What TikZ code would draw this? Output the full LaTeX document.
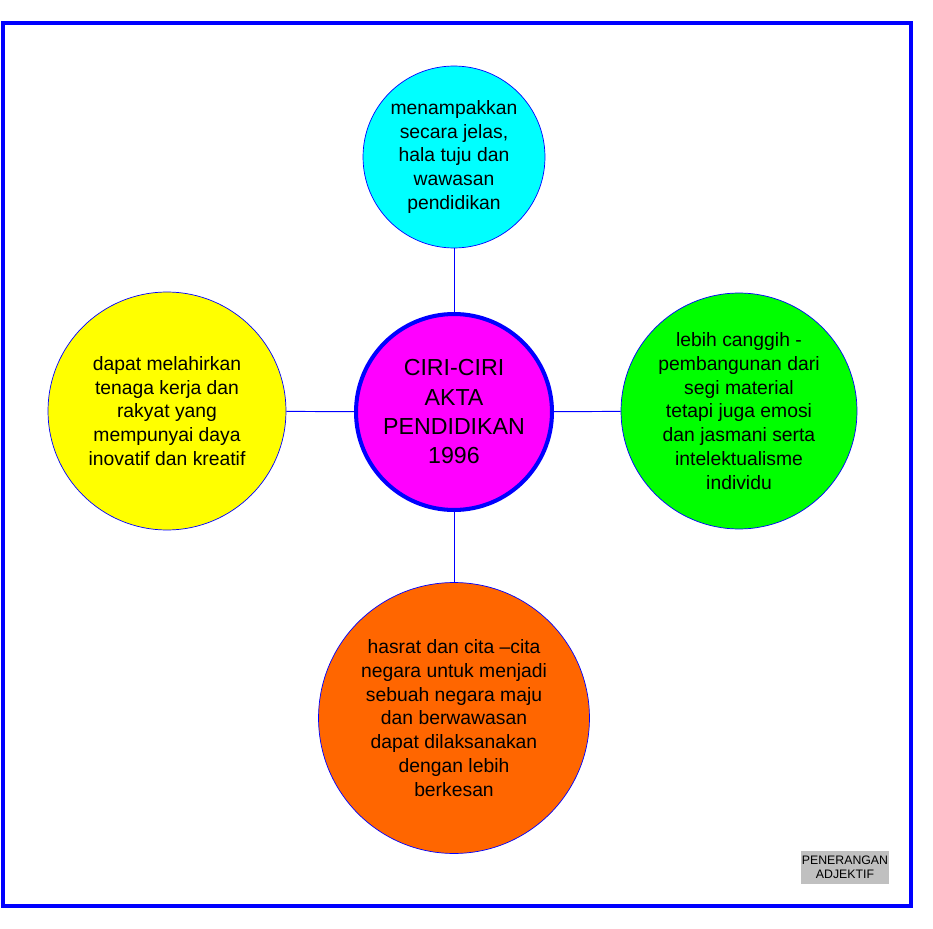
\documentclass[tikz,border=0pt]{standalone}
\usepackage{fontspec}
\setmainfont{Liberation Sans}
\definecolor{kuning}{RGB}{255,255,0}
\definecolor{biru}{RGB}{0,0,255}
\definecolor{sian}{RGB}{0,255,255}
\definecolor{hijau}{RGB}{0,255,0}
\definecolor{jingga}{RGB}{255,102,0}
\definecolor{ungu}{RGB}{255,0,255}
\definecolor{kelabu}{RGB}{192,192,192}
\begin{document}
\begin{tikzpicture}[x=0.02cm,y=-0.02cm,
  bubble/.style={circle,draw=biru,line width=0.4pt,align=center,inner sep=0pt,
    font=\fontsize{11}{13.6}\selectfont},
  link/.style={draw=biru,line width=0.55pt}]
\useasboundingbox (0,0) rectangle (933,929);
% frame
\draw[biru,line width=0.08cm] (3,23) rectangle (910.5,905.5);
% centre
\node[circle,draw=biru,line width=2.3pt,fill=ungu,align=center,inner sep=0pt,
  minimum size=3.92cm,font=\fontsize{13.2}{16.7}\selectfont] (ciri) at (454,412)
  {CIRI-CIRI\\AKTA\\PENDIDIKAN\\1996};
% outer circles
\node[bubble,fill=sian,minimum size=3.64cm] (tuju) at (454,157)
  {menampakkan\\secara jelas,\\hala tuju dan\\wawasan\\pendidikan};
\node[bubble,fill=kuning,minimum size=4.76cm] (tenaga) at (167,411)
  {dapat melahirkan\\tenaga kerja dan\\rakyat yang\\mempunyai daya\\inovatif dan kreatif};
\node[bubble,fill=hijau,minimum size=4.72cm] (canggih) at (739,411)
  {lebih canggih -\\pembangunan dari\\segi material\\tetapi juga emosi\\dan jasmani serta\\intelektualisme\\individu};
\node[bubble,fill=jingga,minimum size=5.42cm] (hasrat) at (454,718)
  {hasrat dan cita --cita\\negara untuk menjadi\\sebuah negara maju\\dan berwawasan\\dapat dilaksanakan\\dengan lebih\\berkesan};
% links
\draw[link] (ciri) -- (tuju);
\draw[link] (ciri) -- (tenaga);
\draw[link] (ciri) -- (canggih);
\draw[link] (ciri) -- (hasrat);
% label
\node[fill=kelabu,minimum width=1.76cm,minimum height=0.66cm,inner sep=0pt,align=center,
  font=\fontsize{7}{7.8}\selectfont] (label) at (845,867.5) {PENERANGAN\\ADJEKTIF};
\end{tikzpicture}
\end{document}
